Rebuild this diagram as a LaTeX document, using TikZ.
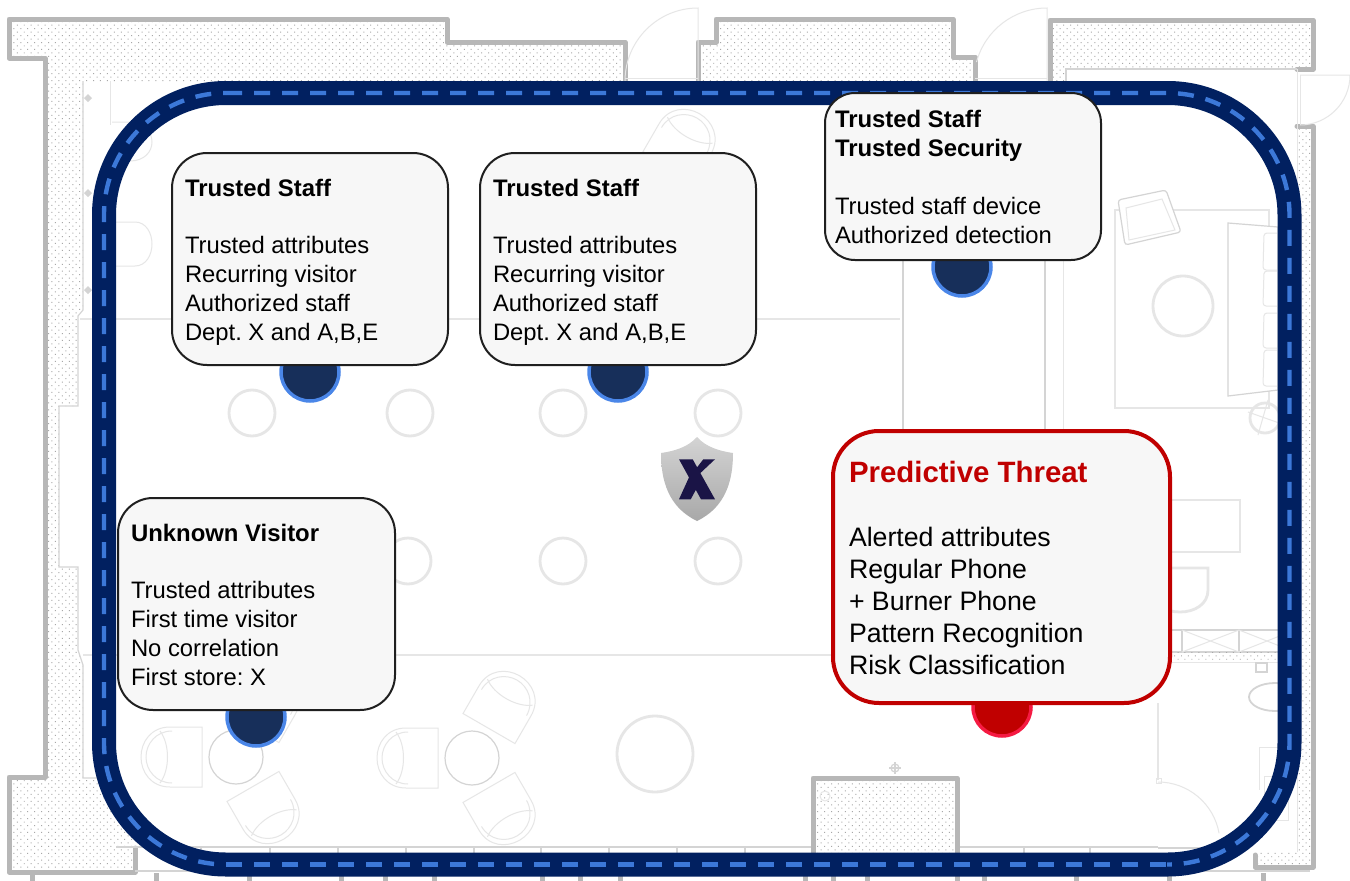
\documentclass[tikz,border=0pt]{standalone}
\usepackage{fontspec}
\setmainfont{Liberation Sans}
\usetikzlibrary{patterns.meta}
\definecolor{wallgray}{HTML}{B7B7B7}
\definecolor{dotgray}{HTML}{A8A8A8}
\definecolor{furn}{HTML}{E6E6E6}
\definecolor{furnmid}{HTML}{D4D4D4}
\definecolor{frameblue}{HTML}{012060}
\definecolor{dashblue}{HTML}{3C78D8}
\definecolor{pinnavy}{HTML}{172F5A}
\definecolor{pinblue}{HTML}{4A86E8}
\definecolor{alertred}{HTML}{C00000}
\definecolor{pinred}{HTML}{F51A42}
\definecolor{boxfill}{HTML}{F7F7F7}
\definecolor{boxline}{HTML}{1F1F1F}
\definecolor{logonavy}{HTML}{1A1446}
\newcommand{\firstline}{\rule[-6pt]{0pt}{24pt}}
\newcommand{\boldtitle}[1]{{\fontsize{23.9}{29}\selectfont\bfseries #1}}
\newcommand{\seatchair}[3]{%
  \begin{scope}[shift={(#1,#2)},rotate=#3]
    \draw[thinline] (-34,-30) -- (-66,-30) .. controls (-85,-30) and (-95,-15) .. (-95,0) .. controls (-95,15) and (-85,30) .. (-66,30) -- (-34,30) -- cycle;
    \draw[thinline] (-64,-26) .. controls (-80,-26) and (-90,-13) .. (-90,0) .. controls (-90,13) and (-80,26) .. (-64,26);
    \draw[thinline] (-76,-26) .. controls (-66,-13) and (-66,13) .. (-76,26);
  \end{scope}}
\tikzset{
  stipple/.style={pattern={Dots[radius=0.7pt,distance=4.9pt,angle=45]},pattern color=dotgray,draw=none},
  wallline/.style={draw=wallgray,line width=5pt,line join=round,line cap=round},
  hairwall/.style={draw=furnmid,line width=1.2pt},
  thinline/.style={draw=furn,line width=1pt},
  midline/.style={draw=furnmid,line width=1.2pt},
  softline/.style={draw=furn,line width=2.8pt},
  pillar/.style={draw=furn,line width=2.8pt,fill=white},
  pinblue/.style={circle,minimum size=58pt,inner sep=0pt,fill=pinnavy,draw=pinblue,line width=3.5pt},
  pinalert/.style={circle,minimum size=58pt,inner sep=0pt,fill=alertred,draw=pinred,line width=3.5pt},
  infobox/.style={rectangle,inner sep=0pt,outer sep=0pt,rounded corners=35pt,fill=boxfill,draw=boxline,line width=2pt,anchor=north west},
  alertbox/.style={rectangle,inner sep=0pt,outer sep=0pt,rounded corners=46pt,fill=boxfill,draw=alertred,line width=4pt,anchor=north west},
  infotext/.style={anchor=north west,inner sep=0pt,outer sep=0pt,align=left,font=\fontsize{23.8}{29}\selectfont\frenchspacing},
  alerttext/.style={anchor=north west,inner sep=0pt,outer sep=0pt,align=left,font=\fontsize{26.7}{32}\selectfont\frenchspacing},
  framedash/.style={draw=dashblue,line width=4.4pt,dash pattern=on 16pt off 12pt,rounded corners=122pt}
}
\begin{document}
\begin{tikzpicture}[x=1pt,y=1pt,yscale=-1]
\useasboundingbox (0,0) rectangle (1350,881);
\fill[white] (0,0) rectangle (1350,881);
% masonry
\path[stipple] (9,19) -- (447,19) -- (447,42) -- (625,42) -- (625,81) -- (83,81) -- (83,310) -- (78,316) -- (78,406) -- (59,406) -- (59,567) -- (78,567) -- (78,650) -- (83,665) -- (83,778) -- (134,778) -- (134,872) -- (9,872) -- (9,777) -- (45,777) -- (45,58) -- (9,58) -- cycle;
\path[stipple] (698,81) -- (698,42) -- (716,42) -- (716,19) -- (953,19) -- (953,57) -- (975,57) -- (975,81) -- cycle;
\path[stipple] (1050,81) -- (1050,20) -- (1313,20) -- (1313,69) -- (1297,69) -- (1066,69) -- (1066,81) -- cycle;
\path[stipple] (1297,126) -- (1313,126) -- (1313,867) -- (1255,867) -- (1255,852) -- (1297,852) -- cycle;
\draw[wallline] (625,81) -- (625,42) -- (447,42) -- (447,19) -- (9,19) -- (9,58) -- (45,58) -- (45,777) -- (9,777) -- (9,872) -- (135,872) -- (135,848);
\draw[wallline] (698,81) -- (698,42) -- (716,42) -- (716,19) -- (953,19) -- (953,57) -- (975,57) -- (975,81);
\draw[wallline] (1050,81) -- (1050,20) -- (1313,20) -- (1313,69) -- (1297,69);
\draw[wallline] (1297,126) -- (1313,126) -- (1313,867) -- (1255,867) -- (1255,855);
\draw[hairwall] (83,81) -- (83,310) -- (78,316) -- (78,406) -- (59,406) -- (59,567) -- (78,567) -- (78,650) -- (83,665) -- (83,778) -- (134,778) -- (134,800);
\draw[hairwall] (1297,69) -- (1066,69) -- (1066,81);
\draw[thinline] (1297,69) -- (1297,126);
\draw[thinline] (1297,852) -- (1297,126);
% stubs below
\foreach \sx in {32,156,249,341,385,434,542,580,620,805,833,867,957,984,1076,1169,1263}
  \draw[draw=wallgray,line width=5pt] (\sx,873) -- (\sx,881);
\draw[draw=furnmid,line width=1.2pt] (135,871) -- (1310,871);
% doors outside the frame
\draw[thinline] (698,81) -- (698,8) arc[start angle=-90,end angle=-180,radius=73];
\draw[thinline] (625,78) -- (698,78);
\draw[thinline] (1047,81) -- (1047,8) arc[start angle=-90,end angle=-165,radius=73];
\draw[thinline] (975,78) -- (1047,78);
\draw[thinline] (1300,75) -- (1350,75) arc[start angle=0,end angle=90,radius=50];
\draw[thinline] (1300,75) -- (1300,125);
% interior
\fill[white,rounded corners=110pt] (116,105) rectangle (1278,853);
% TL corner trims
\draw[thinline] (110,81) -- (110,125);
\foreach \py in {98,193,290}
  \draw[fill=furnmid,draw=none] (88,\py-4) -- (92,\py) -- (88,\py+4) -- (84,\py) -- cycle;
% room lines
\draw[softline] (80,319) -- (900,319);
\draw[softline] (83,655) -- (850,655);
\draw[draw=furnmid,line width=2pt] (903,260) -- (903,432);
\draw[draw=furnmid,line width=2pt] (1045,260) -- (1045,432);
\draw[thinline] (1063,81) -- (1063,700);
% seating top-left
\draw[thinline] (116,222) -- (135,222) .. controls (146,222) and (152,233) .. (152,244) .. controls (152,255) and (146,266) .. (135,266) -- (116,266);
\draw[thinline] (112,122) -- (130,122) .. controls (144,122) and (152,132) .. (152,142) .. controls (152,152) and (144,161) .. (130,161);
% columns
\foreach \cx/\cy in {252/413,410/413,563/413,718/413,408/561,563/561,718/561}
  \draw[pillar] (\cx,\cy) circle[radius=23];
% lounge
\draw[softline] (1115,210) rectangle (1269,408);
\draw[softline,fill=white] (1183,306) circle[radius=30];
\draw[midline,fill=white,rounded corners=3pt] (1118,200) -- (1166,190) -- (1181,232) -- (1125,245) -- cycle;
\draw[thinline] (1126,208) -- (1162,199) -- (1175,230) -- (1129,240) -- cycle;
\draw[midline,fill=white] (1228,223) -- (1278,227) -- (1278,390) -- (1228,396) -- cycle;
\foreach \ya/\yb in {233/270,271/306,313/348,350/386}
  \draw[thinline,rounded corners=3pt] (1278,\ya) -- (1264,\ya) -- (1263,\yb) -- (1278,\yb);
\draw[softline] (1265,418) circle[radius=15];
\draw[thinline] (1248,412) -- (1282,424);
\draw[thinline] (1268,400) -- (1258,435);
% service area
\draw[softline] (1100,500) rectangle (1240,552);
\draw[softline] (1150,568) -- (1208,568) -- (1208,590) .. controls (1208,604) and (1195,612) .. (1180,612) .. controls (1165,612) and (1150,604) .. (1150,590);
\draw[midline] (1165,630) rectangle (1182,652);
\draw[midline] (1182,630) rectangle (1239,652);
\draw[midline] (1239,630) rectangle (1295,652);
\draw[thinline] (1182,630) -- (1239,652);
\draw[thinline] (1182,652) -- (1239,630);
\draw[thinline] (1239,630) -- (1295,652);
\draw[thinline] (1239,652) -- (1295,630);
\path[stipple] (1165,652) rectangle (1280,662);
\draw[thinline] (1165,662) -- (1280,662);
\draw[midline] (1256,663) rectangle (1267,672);
\draw[draw=furnmid,line width=1.8pt] (1275,697) ellipse[x radius=26,y radius=14];
\draw[softline] (1158,703) -- (1158,780);
\draw[thinline] (1158,782) arc[start angle=-90,end angle=-10,radius=62];
\draw[thinline] (1156,778) rectangle (1161,783);
\draw[midline] (1158,848) -- (1225,848);
\draw[thinline] (1259,747) -- (1285,747);
\draw[thinline] (1259,747) -- (1259,790);
\draw[thinline] (1264,776) rectangle (1288,820);
% seating bottom
\draw[draw=furnmid,line width=1.2pt,fill=white] (236,757) circle[radius=27];
\draw[draw=furnmid,line width=1.2pt,fill=white] (472,758) circle[radius=27];
\draw[softline] (655,754) circle[radius=38];
\seatchair{236}{757}{0}
\seatchair{236}{757}{240}
\seatchair{236}{757}{120}
\seatchair{472}{758}{0}
\seatchair{472}{758}{120}
\seatchair{472}{758}{240}
\seatchair{652}{196}{120}
% bottom rail
\draw[midline] (116,847) -- (1158,847);
\foreach \tx in {201,270,338,406,474,541,609,677,745,1024,1090}
  \draw[midline] (\tx,847) -- (\tx,853);
% centre masonry
\fill[white] (813,778) rectangle (957,856);
\path[stipple] (813,856) -- (813,778) -- (957,778) -- (957,856) -- cycle;
\draw[wallline] (813,856) -- (813,778) -- (957,778) -- (957,856);
\draw[thinline] (825,796) circle[radius=5];
\draw[midline] (895,762) -- (895,774);
\draw[midline] (889,768) -- (901,768);
\draw[midline] (895,768) circle[radius=4];
% frame
\draw[draw=frameblue,line width=24pt,rounded corners=122pt] (104,93) rectangle (1289.5,864.5);
\draw[framedash] (226,93) -- (1289.5,93) -- (1289.5,864.5) -- (1167,864.5);
\draw[framedash,dash pattern=on 16pt off 12pt,dash phase=16pt] (226,864.5) -- (104,864.5) -- (104,93) -- (226,93);
\draw[framedash,rounded corners=0pt] (226,864.5) -- (1167,864.5);
% logo
\shade[top color=black!17,bottom color=black!34] (697,437) .. controls (688,447) and (675,451) .. (661,453) .. controls (661,480) and (668,507) .. (697,521) .. controls (726,507) and (733,480) .. (733,453) .. controls (719,451) and (706,447) .. (697,437) -- cycle;
\fill[logonavy] (679,459.3) -- (692.7,459.3) -- (715,499.3) -- (701,499.3) -- cycle;
\fill[logonavy] (703.3,459.3) -- (715,459.3) -- (698.3,475) -- (695,470) -- cycle;
\fill[logonavy] (679,499.3) -- (690.7,499.3) -- (696.7,488.3) -- (689.3,476.7) -- cycle;
% pins
\node[pinblue] (pinA) at (310,372) {};
\node[pinblue] (pinB) at (618,372) {};
\node[pinblue] (pinC) at (962,267) {};
\node[pinblue] (pinD) at (256,717) {};
\node[pinalert] (pinE) at (1002,707) {};
% boxes
\node[infobox,minimum width=276pt,minimum height=212pt] (boxA) at (172,153) {};
\node[infobox,minimum width=276pt,minimum height=212pt] (boxB) at (480,153) {};
\node[infobox,minimum width=276pt,minimum height=167pt,rounded corners=30pt] (boxC) at (825,93) {};
\node[infobox,minimum width=277pt,minimum height=212pt] (boxD) at (118,498) {};
\node[alertbox,minimum width=337pt,minimum height=272pt] (boxE) at (833,431) {};
% texts
\node[infotext] (textA) at (185,178) {\firstline\boldtitle{Trusted Staff}\\[28pt]Trusted attributes\\Recurring visitor\\Authorized staff\\Dept. X and A,B,E};
\node[infotext] (textB) at (493,178) {\firstline\boldtitle{Trusted Staff}\\[28pt]Trusted attributes\\Recurring visitor\\Authorized staff\\Dept. X and A,B,E};
\node[infotext] (textC) at (835,109) {\firstline\boldtitle{Trusted Staff}\\\boldtitle{Trusted Security}\\[29pt]Trusted staff device\\Authorized detection};
\node[infotext] (textD) at (131,523) {\firstline\boldtitle{Unknown Visitor}\\[28pt]Trusted attributes\\First time visitor\\No correlation\\First store: X};
\node[alerttext] (textE) at (849,461) {\firstline{\fontsize{29.4}{32}\selectfont\bfseries\color{alertred}Predictive Threat}\\[32pt]Alerted attributes\\Regular Phone\\+ Burner Phone\\Pattern Recognition\\Risk Classification};
\end{tikzpicture}
\end{document}
